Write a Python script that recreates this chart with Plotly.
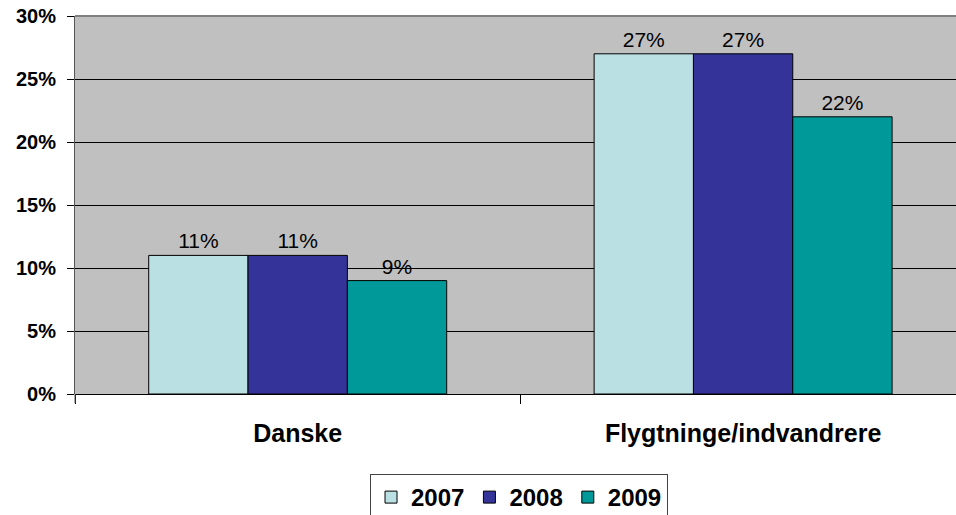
import plotly.graph_objects as go

categories = ["Danske", "Flygtninge/indvandrere"]
years = ["2007", "2008", "2009"]
values_2007 = [11, 27]
values_2008 = [11, 27]
values_2009 = [9, 22]
y_ticks = [0, 5, 10, 15, 20, 25, 30]
y_tick_labels = ["0%", "5%", "10%", "15%", "20%", "25%", "30%"]

series = [values_2007, values_2008, values_2009]
colors = ["#BBE0E3", "#333399", "#009999"]

FONT = "Liberation Sans, Arial, sans-serif"

fig = go.Figure()
for name, vals, col in zip(years, series, colors):
    fig.add_trace(go.Bar(
        x=categories, y=vals, name=name,
        marker=dict(color=col, line=dict(color="black", width=1)),
        text=[f"{v}%" for v in vals], textposition="outside",
        textfont=dict(family=FONT, size=21, color="black"),
        cliponaxis=False,
    ))

fig.update_layout(
    width=956, height=515,
    margin=dict(l=75, r=0, t=16, b=121, autoexpand=False),
    paper_bgcolor="white", plot_bgcolor="#C0C0C0",
    barmode="group", bargap=0.331, bargroupgap=0,
    font=dict(family=FONT, color="black"),
    showlegend=True,
    legend=dict(
        orientation="h", x=0.504, xanchor="center",
        yref="container", y=1 - 474 / 515, yanchor="top",
        font=dict(family=FONT, size=24, color="black", weight="bold"),
        bordercolor="#444444", borderwidth=1, bgcolor="white",
        itemwidth=30, tracegroupgap=0,
    ),
)

fig.update_xaxes(
    type="category", range=[-0.5, 1.478],
    tickson="boundaries", ticks="outside", ticklen=9, tickcolor="black",
    showgrid=False, showline=False, zeroline=False,
    tickfont=dict(family=FONT, size=25, color="black", weight="bold"),
    ticklabelstandoff=22,
)
fig.update_yaxes(
    range=[0, 30], tickmode="array", tickvals=y_ticks, ticktext=y_tick_labels,
    ticks="outside", ticklen=7, tickcolor="black",
    showgrid=True, gridcolor="black", gridwidth=1,
    zeroline=True, zerolinecolor="black", zerolinewidth=1,
    showline=True, linecolor="#555555", linewidth=1,
    tickfont=dict(family=FONT, size=20, color="black", weight="bold"),
    ticklabelstandoff=7,
)

# gray top border of the plot area
fig.add_shape(type="line", xref="paper", yref="paper", x0=0, x1=1, y0=1, y1=1,
              line=dict(color="#808080", width=2))
# left axis extends below the baseline
fig.add_shape(type="line", xref="paper", yref="paper", x0=0, x1=0, y0=0, y1=-0.024,
              line=dict(color="#555555", width=1))

fig.write_html(
    "out.html",
    config={"displayModeBar": False},
    post_script="document.body.style.margin='0';document.body.style.padding='0';document.body.style.overflow='hidden';",
)
